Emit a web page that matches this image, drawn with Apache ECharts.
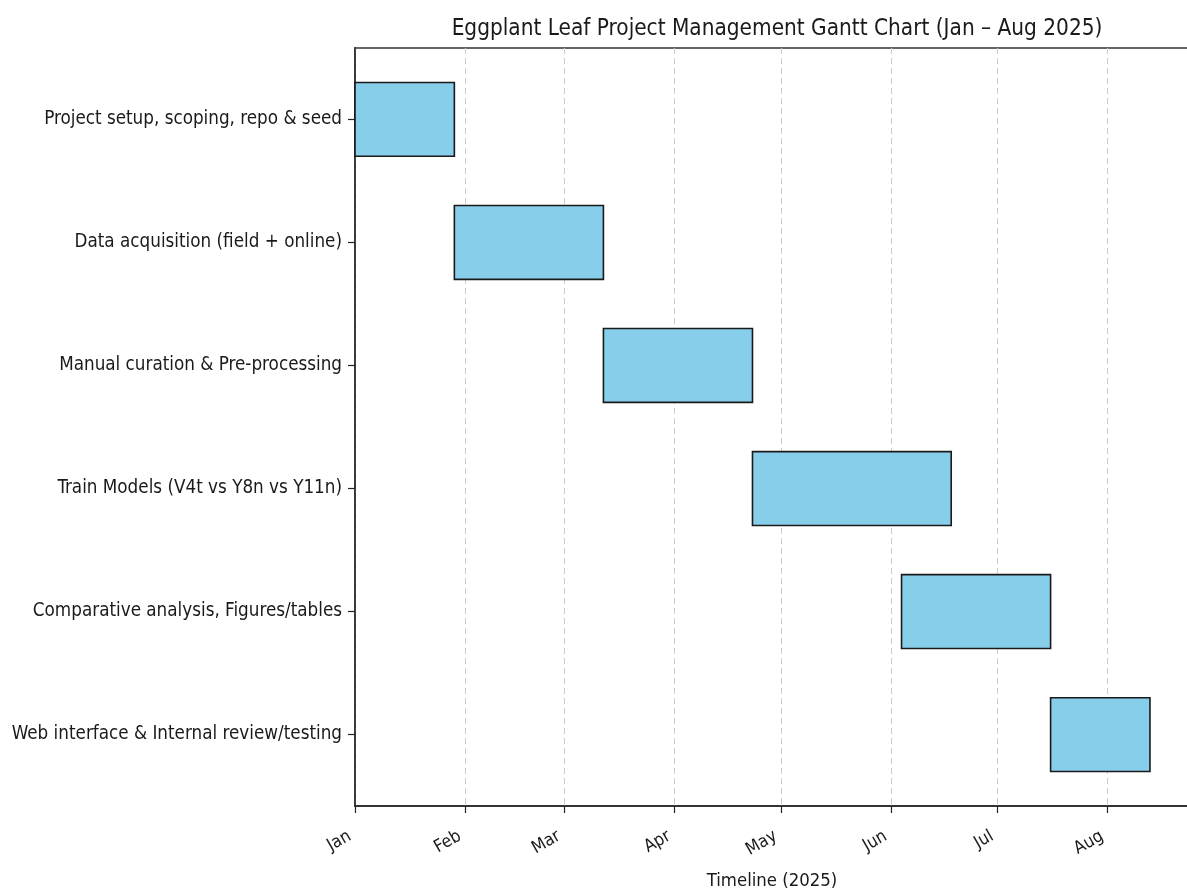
<!DOCTYPE html>
<html>
<head>
<meta charset="utf-8">
<script src="https://cdn.jsdelivr.net/npm/echarts@6/dist/echarts.min.js"></script>
<style>
html,body{margin:0;padding:0;background:#fff;}
#chart{width:1187px;height:893px;}
</style>
</head>
<body>
<div id="chart"></div>
<script>
// ---- data ----
const tasks = [
  'Project setup, scoping, repo & seed',
  'Data acquisition (field + online)',
  'Manual curation & Pre-processing',
  'Train Models (V4t vs Y8n vs Y11n)',
  'Comparative analysis, Figures/tables',
  'Web interface & Internal review/testing'
];
const startDates = ['2025-01-01','2025-01-29','2025-03-12','2025-04-23','2025-06-04','2025-07-16'];
const endDates   = ['2025-01-29','2025-03-12','2025-04-23','2025-06-18','2025-07-16','2025-08-13'];
const monthLabels = ['Jan','Feb','Mar','Apr','May','Jun','Jul','Aug'];
const monthStarts = ['2025-01-01','2025-02-01','2025-03-01','2025-04-01','2025-05-01','2025-06-01','2025-07-01','2025-08-01'];
const axisStart = '2025-01-01';
const axisEnd = '2025-08-24';

// ---- helpers ----
const DAY = 86400000;
function dayNum(s){ const p=s.split('-').map(Number); return (Date.UTC(p[0],p[1]-1,p[2]) - Date.UTC(2025,0,1))/DAY; }
const monthTicks = monthStarts.map(dayNum);
const seriesData = tasks.map((t,i)=>[i, dayNum(startDates[i]), dayNum(endDates[i])]);

const FONT = "'DejaVu Sans Condensed','DejaVu Sans',sans-serif";
const chart = echarts.init(document.getElementById('chart'));
chart.setOption({
  animation:false,
  backgroundColor:'#fff',
  title:{
    text:'Eggplant Leaf Project Management Gantt Chart (Jan – Aug 2025)',
    left:772, textAlign:'center', top:13,
    textStyle:{fontFamily:FONT,fontSize:22.4,fontWeight:'normal',color:'#1a1a1a'}
  },
  grid:{left:355, top:48, width:834, height:758, containLabel:false, outerBoundsMode:'none',
        show:true, borderColor:'#333', borderWidth:1.5, backgroundColor:'transparent'},
  xAxis:{
    type:'value', min:dayNum(axisStart), max:dayNum(axisEnd),
    axisLine:{show:true,onZero:false,lineStyle:{color:'#333',width:1.8}},
    axisTick:{show:true,customValues:monthTicks,length:7,lineStyle:{color:'#222',width:1.2}},
    axisLabel:{customValues:monthTicks,rotate:30,margin:26,padding:[0,6,0,0],fontFamily:FONT,fontSize:17.5,color:'#1a1a1a',
      formatter:function(v){ const i=monthTicks.indexOf(Math.round(v)); return i>=0?monthLabels[i]:''; }},
    splitLine:{show:true,lineStyle:{color:'#cccccc',type:[6,4],width:1}},
    name:'Timeline (2025)', nameLocation:'middle', nameGap:66,
    nameTextStyle:{fontFamily:FONT,fontSize:18.4,color:'#1a1a1a'}
  },
  yAxis:{
    type:'value', min:-0.58, max:5.58, inverse:true,
    axisLine:{show:true,onZero:false,lineStyle:{color:'#333',width:1.8}},
    axisTick:{show:true,customValues:[0,1,2,3,4,5],length:7,lineStyle:{color:'#222',width:1.2}},
    axisLabel:{customValues:[0,1,2,3,4,5],margin:13,fontFamily:FONT,fontSize:18.7,color:'#1a1a1a',
      formatter:function(v){ return tasks[Math.round(v)] || ''; }},
    splitLine:{show:false}
  },
  series:[{
    type:'custom',
    data:seriesData,
    encode:{x:[1,2],y:0},
    renderItem:function(params,api){
      const idx=api.value(0);
      const s=api.coord([api.value(1),idx]);
      const e=api.coord([api.value(2),idx]);
      const h=Math.abs(api.size([0,0.6])[1]);
      return {type:'rect',
        shape:{x:s[0],y:s[1]-h/2,width:e[0]-s[0],height:h},
        style:{fill:'#87CEEB',stroke:'#1a1a1a',lineWidth:1.6}};
    }
  }]
});
</script>
</body>
</html>
